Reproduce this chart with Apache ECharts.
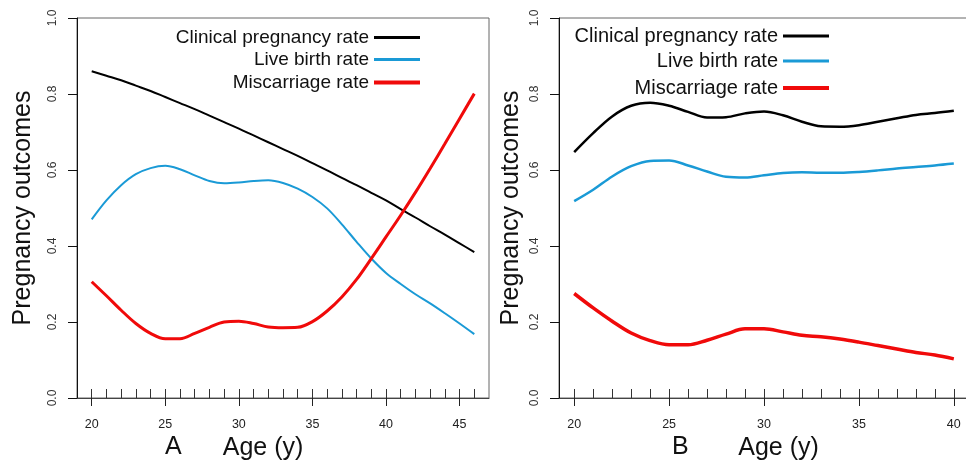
<!DOCTYPE html>
<html>
<head>
<meta charset="utf-8">
<script src="https://cdn.jsdelivr.net/npm/echarts@6/dist/echarts.min.js"></script>
<style>
html,body{margin:0;padding:0;background:#fff;}
#c{width:966px;height:462px;}
</style>
</head>
<body>
<div id="c"></div>
<script>
// ---- data ----
var seriesNames = ['Clinical pregnancy rate', 'Live birth rate', 'Miscarriage rate'];

var agesA = [20,21,22,23,24,25,26,27,28,29,30,31,32,33,34,35,36,37,38,39,40,41,42,43,44,45,46];
var clinicalA = [0.860,0.848,0.836,0.822,0.808,0.792,0.776,0.760,0.743,0.726,0.709,0.691,0.673,0.655,0.637,0.618,0.599,0.579,0.560,0.540,0.520,0.497,0.475,0.452,0.430,0.407,0.384];
var liveA = [0.470,0.520,0.560,0.589,0.605,0.611,0.602,0.586,0.571,0.565,0.567,0.571,0.573,0.566,0.551,0.529,0.499,0.457,0.411,0.367,0.329,0.300,0.273,0.249,0.223,0.196,0.168];
var miscA = [0.306,0.269,0.231,0.196,0.170,0.156,0.156,0.170,0.186,0.200,0.202,0.196,0.187,0.185,0.186,0.201,0.229,0.266,0.312,0.367,0.424,0.481,0.541,0.604,0.669,0.735,0.801];

var agesB = [20,21,22,23,24,25,26,27,28,29,30,31,32,33,34,35,36,37,38,39,40];
var clinicalB = [0.647,0.697,0.741,0.769,0.777,0.769,0.753,0.738,0.739,0.749,0.754,0.744,0.727,0.715,0.714,0.718,0.727,0.736,0.745,0.750,0.756];
var liveB = [0.518,0.548,0.583,0.610,0.624,0.625,0.612,0.596,0.582,0.580,0.586,0.592,0.594,0.593,0.593,0.595,0.599,0.604,0.608,0.612,0.617];
var miscB = [0.275,0.237,0.202,0.171,0.151,0.140,0.140,0.152,0.168,0.182,0.182,0.174,0.165,0.161,0.155,0.147,0.138,0.129,0.120,0.113,0.103];

var rugTicksA = agesA;
var rugTicksB = agesB;
var majorTicksA = [20,25,30,35,40,45];
var majorTicksB = [20,25,30,35,40];
var yTickLabels = ['0.0','0.2','0.4','0.6','0.8','1.0'];

var xTitle = 'Age (y)';
var yTitle = 'Pregnancy outcomes';
var panelLetters = ['A', 'B'];

// ---- styles ----
var FONT = '"Liberation Sans", Arial, sans-serif';
var colors = ['#000000', '#1a9ad6', '#f00a0a'];

function pairs(xs, ys) { return xs.map(function (x, i) { return [x, ys[i]]; }); }

function rugAxis(grid, min, max, ticks) {
  return {
    type: 'value', gridIndex: grid, position: 'bottom', min: min, max: max,
    axisLine: { show: true, lineStyle: { color: '#444', width: 1 } },
    axisTick: { show: true, inside: true, length: 9, customValues: ticks, lineStyle: { color: '#333', width: 1 } },
    axisLabel: { show: false },
    splitLine: { show: false }
  };
}
function majorAxis(grid, min, max, ticks, namePad) {
  return {
    type: 'value', gridIndex: grid, position: 'bottom', min: min, max: max,
    axisLine: { show: false },
    axisTick: { show: true, inside: false, length: 8, customValues: ticks, lineStyle: { color: '#222', width: 1 } },
    axisLabel: { show: true, customValues: ticks, margin: 20, fontSize: 12.5, color: '#222', fontFamily: FONT },
    splitLine: { show: false },
    name: xTitle, nameLocation: 'middle', nameGap: 36,
    nameTextStyle: { fontSize: 25, color: '#111', fontFamily: FONT, padding: namePad }
  };
}
function yAxis(grid, nameGap) {
  return {
    type: 'value', gridIndex: grid, min: 0, max: 1, interval: 0.2,
    axisLine: { show: true, lineStyle: { color: '#111', width: 1 } },
    axisTick: { show: true, inside: false, length: 9, lineStyle: { color: '#111' } },
    axisLabel: { rotate: 90, margin: 18, fontSize: 12, color: '#333', fontFamily: FONT,
      formatter: function (v) { return yTickLabels[Math.round(v / 0.2)]; } },
    splitLine: { show: false },
    name: yTitle, nameLocation: 'middle', nameGap: nameGap,
    nameTextStyle: { fontSize: 25, color: '#111', fontFamily: FONT }
  };
}
function line(name, xs, ys, xi, yi, color, w) {
  return {
    type: 'line', name: name, xAxisIndex: xi, yAxisIndex: yi,
    data: pairs(xs, ys), smooth: 0.35, showSymbol: false, symbol: 'none',
    color: color, lineStyle: { color: color, width: w }, itemStyle: { color: color },
    animation: false
  };
}
function legend(name, right, top, h, fs) {
  return {
    data: [name], orient: 'vertical', right: right, top: top, padding: 0,
    icon: 'rect', itemWidth: 46, itemHeight: h, align: 'right', selectedMode: false,
    textStyle: { fontSize: fs, color: '#111', fontFamily: FONT }
  };
}

var option = {
  animation: false,
  backgroundColor: '#fff',
  title: [
    { text: panelLetters[0], left: 165, top: 435, padding: 0, textStyle: { fontSize: 25, fontWeight: 'normal', color: '#111', fontFamily: FONT } },
    { text: panelLetters[1], left: 672, top: 435, padding: 0, textStyle: { fontSize: 25, fontWeight: 'normal', color: '#111', fontFamily: FONT } }
  ],
  legend: [
    legend(seriesNames[0], 546, 28, 3, 19),
    legend(seriesNames[1], 546, 50, 3, 19),
    legend(seriesNames[2], 546, 73, 4, 19),
    legend(seriesNames[0], 137, 26, 3, 20),
    legend(seriesNames[1], 137, 51, 3, 20),
    legend(seriesNames[2], 137, 78, 4, 20)
  ],
  grid: [
    { left: 77, top: 18, width: 412, height: 380, outerBoundsMode: 'none', containLabel: false, show: true, borderColor: '#666', borderWidth: 1, backgroundColor: 'transparent' },
    { left: 559, top: 18, width: 410, height: 380, outerBoundsMode: 'none', containLabel: false, show: true, borderColor: '#666', borderWidth: 1, backgroundColor: 'transparent' }
  ],
  xAxis: [
    rugAxis(0, 19, 47, rugTicksA),
    majorAxis(0, 19, 47, majorTicksA, [0, 40, 0, 0]),
    rugAxis(1, 19.2, 40.8, rugTicksB),
    majorAxis(1, 19.2, 40.8, majorTicksB, [0, 0, 0, 29])
  ],
  yAxis: [yAxis(0, 41), yAxis(1, 35)],
  series: [
    line(seriesNames[0], agesA, clinicalA, 0, 0, colors[0], 2),
    line(seriesNames[1], agesA, liveA, 0, 0, colors[1], 2),
    line(seriesNames[2], agesA, miscA, 0, 0, colors[2], 3),
    line(seriesNames[0], agesB, clinicalB, 2, 1, colors[0], 2.5),
    line(seriesNames[1], agesB, liveB, 2, 1, colors[1], 2.5),
    line(seriesNames[2], agesB, miscB, 2, 1, colors[2], 3.5)
  ]
};

var chart = echarts.init(document.getElementById('c'), null, { renderer: 'canvas' });
chart.setOption(option);
</script>
</body>
</html>
